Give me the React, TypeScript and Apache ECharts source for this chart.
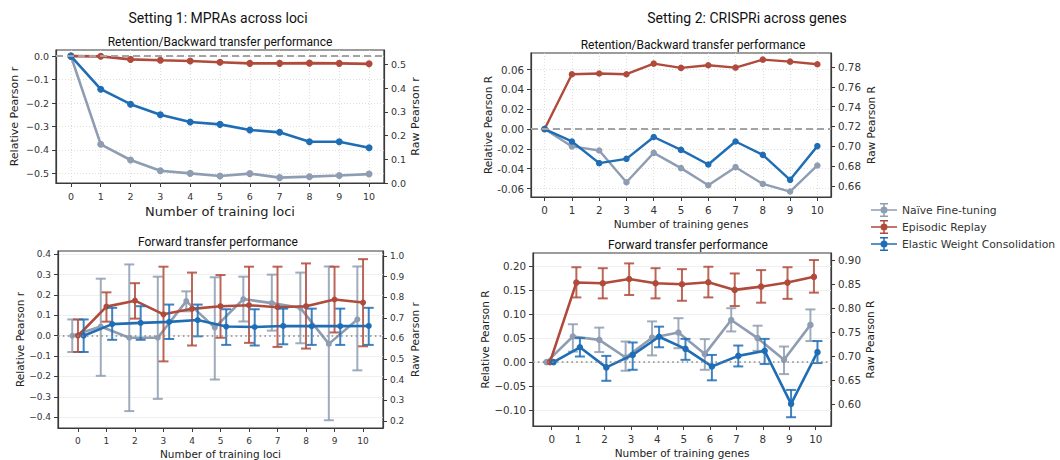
import React, { useEffect, useRef } from "react";
import * as echarts from "echarts";

// ---------- data ----------
const steps = [0, 1, 2, 3, 4, 5, 6, 7, 8, 9, 10];
const methods = ["Naïve Fine-tuning", "Episodic Replay", "Elastic Weight Consolidation"];

// Setting 1 – MPRAs, retention (relative Pearson r)
const mpraRetNaive = [0, -0.376, -0.443, -0.489, -0.5, -0.511, -0.501, -0.518, -0.514, -0.509, -0.503];
const mpraRetReplay = [0, -0.001, -0.014, -0.018, -0.021, -0.026, -0.031, -0.031, -0.03, -0.031, -0.033];
const mpraRetEwc = [0, -0.141, -0.205, -0.25, -0.281, -0.291, -0.315, -0.325, -0.365, -0.365, -0.391];

// Setting 1 – MPRAs, forward transfer (mean, low, high)
const mpraFwdNaive = [0, 0.045, -0.01, -0.01, 0.17, 0.04, 0.18, 0.16, 0.137, -0.04, 0.08];
const mpraFwdNaiveLo = [-0.08, -0.197, -0.37, -0.31, 0.12, -0.215, 0.07, 0.025, -0.037, -0.415, -0.17];
const mpraFwdNaiveHi = [0.08, 0.28, 0.35, 0.29, 0.218, 0.287, 0.29, 0.3, 0.31, 0.34, 0.34];
const mpraFwdReplay = [0, 0.143, 0.172, 0.105, 0.132, 0.145, 0.15, 0.14, 0.145, 0.178, 0.163];
const mpraFwdReplayLo = [-0.08, 0.069, 0.084, -0.126, -0.048, -0.01, -0.035, -0.055, -0.063, 0.016, -0.052];
const mpraFwdReplayHi = [0.08, 0.213, 0.258, 0.339, 0.31, 0.298, 0.339, 0.339, 0.355, 0.339, 0.376];
const mpraFwdEwc = [0, 0.057, 0.063, 0.068, 0.077, 0.045, 0.043, 0.048, 0.047, 0.047, 0.048];
const mpraFwdEwcLo = [-0.08, -0.02, -0.02, -0.016, -0.003, -0.045, -0.048, -0.042, -0.045, -0.045, -0.045];
const mpraFwdEwcHi = [0.08, 0.137, 0.145, 0.153, 0.153, 0.13, 0.13, 0.133, 0.133, 0.133, 0.137];

// Setting 2 – CRISPRi, retention (relative Pearson R)
const crRetNaive = [0, -0.0175, -0.0216, -0.0536, -0.024, -0.0394, -0.0566, -0.0384, -0.0553, -0.063, -0.0367];
const crRetReplay = [0, 0.0553, 0.056, 0.0553, 0.066, 0.0617, 0.0644, 0.062, 0.07, 0.068, 0.0654];
const crRetEwc = [0, -0.0125, -0.0344, -0.03, -0.008, -0.021, -0.0357, -0.0125, -0.026, -0.0512, -0.0172];

// Setting 2 – CRISPRi, forward transfer (mean, low, high)
const crFwdNaive = [0, 0.0534, 0.0465, 0.0096, 0.051, 0.0617, 0.0167, 0.088, 0.05, 0.0048, 0.0777];
const crFwdNaiveLo = [null, 0.022, 0.021, -0.018, 0.014, 0.029, -0.016, 0.064, 0.0235, -0.025, 0.044];
const crFwdNaiveHi = [null, 0.079, 0.072, 0.043, 0.085, 0.0917, 0.048, 0.1125, 0.076, 0.0325, 0.11];
const crFwdReplay = [0, 0.166, 0.1646, 0.1735, 0.1646, 0.1625, 0.1667, 0.1507, 0.1576, 0.166, 0.178];
const crFwdReplayLo = [null, 0.135, 0.133, 0.14, 0.133, 0.128, 0.135, 0.117, 0.124, 0.132, 0.145];
const crFwdReplayHi = [null, 0.198, 0.196, 0.206, 0.196, 0.194, 0.199, 0.185, 0.192, 0.198, 0.213];
const crFwdEwc = [0, 0.031, -0.011, 0.015, 0.053, 0.0277, -0.009, 0.013, 0.0235, -0.087, 0.0208];
const crFwdEwcLo = [null, 0.0117, -0.039, -0.016, 0.031, 0.0048, -0.038, -0.009, -0.004, -0.115, -0.002];
const crFwdEwcHi = [null, 0.05, 0.013, 0.041, 0.074, 0.0485, 0.015, 0.0346, 0.0485, -0.058, 0.044];

// tick values
const p1LeftTicks = [-0.5, -0.4, -0.3, -0.2, -0.1, 0.0];
const p1RightTicks = [0.0, 0.1, 0.2, 0.3, 0.4, 0.5];
const p2LeftTicks = [-0.4, -0.3, -0.2, -0.1, 0.0, 0.1, 0.2, 0.3, 0.4];
const p2RightTicks = [0.2, 0.3, 0.4, 0.5, 0.6, 0.7, 0.8, 0.9, 1.0];
const p3LeftTicks = [-0.06, -0.04, -0.02, 0.0, 0.02, 0.04, 0.06];
const p3RightTicks = [0.66, 0.68, 0.7, 0.72, 0.74, 0.76, 0.78];
const p4LeftTicks = [-0.1, -0.05, 0.0, 0.05, 0.1, 0.15, 0.2];
const p4RightTicks = [0.6, 0.65, 0.7, 0.75, 0.8, 0.85, 0.9];

// ---------- styling ----------
const COLORS = ["#8e9db2", "#b04b3c", "#1f6db5"];
const AX = "#3a3a3a";
const TICKFONT = "DejaVu Sans";
const TITLEFONT = "Roboto";

const fmt = (d: number, minus: string) => (v: number) =>
  (v < -1e-9 ? minus : "") + Math.abs(v).toFixed(d);

const legendIcon =
  "path://M0,6.25h26v1.5h-26z M12.25,0h1.5v14h-1.5z M9,0h8v1.5h-8z M9,12.5h8v1.5h-8z M16.5,7a3.5,3.5 0 1,1 -7,0a3.5,3.5 0 1,1 7,0z";

type Panel = {
  grid: { left: number; top: number; width: number; height: number };
  xMin: number;
  xMax: number;
  xName: string;
  xNameGap: number;
  xNameSize: number;
  yLeft: { min: number; max: number; ticks: number[]; fmt: (v: number) => string; name: string; gap: number; size: number };
  yRight: { min: number; max: number; ticks: number[]; fmt: (v: number) => string; name: string; gap: number; size: number };
  tickSize: number;
  dotted: boolean;
};

const panels: Panel[] = [
  {
    grid: { left: 56, top: 50, width: 328, height: 133 },
    xMin: -0.5, xMax: 10.5, xName: "Number of training loci", xNameGap: 22, xNameSize: 13,
    yLeft: { min: -0.541, max: 0.026, ticks: p1LeftTicks, fmt: fmt(1, "−"), name: "Relative Pearson r", gap: 36, size: 11 },
    yRight: { min: 0, max: 0.56, ticks: p1RightTicks, fmt: fmt(1, "−"), name: "Raw Pearson r", gap: 25, size: 11 },
    tickSize: 9.5, dotted: true,
  },
  {
    grid: { left: 58, top: 251, width: 325, height: 179 },
    xMin: -0.7, xMax: 10.7, xName: "Number of training loci", xNameGap: 20, xNameSize: 10.5,
    yLeft: { min: -0.453, max: 0.416, ticks: p2LeftTicks, fmt: fmt(1, "−"), name: "Relative Pearson r", gap: 33, size: 10.5 },
    yRight: { min: 0.165, max: 1.025, ticks: p2RightTicks, fmt: fmt(1, "−"), name: "Raw Pearson r", gap: 26, size: 10.5 },
    tickSize: 9, dotted: false,
  },
  {
    grid: { left: 531, top: 53, width: 300, height: 144 },
    xMin: -0.5, xMax: 10.5, xName: "Number of training genes", xNameGap: 21, xNameSize: 10.5,
    yLeft: { min: -0.0685, max: 0.0767, ticks: p3LeftTicks, fmt: fmt(2, "-"), name: "Relative Pearson R", gap: 38, size: 10.5 },
    yRight: { min: 0.649, max: 0.794, ticks: p3RightTicks, fmt: fmt(2, "-"), name: "Raw Pearson R", gap: 34, size: 10.5 },
    tickSize: 10.3, dotted: true,
  },
  {
    grid: { left: 533, top: 253, width: 298, height: 173 },
    xMin: -0.71, xMax: 10.58, xName: "Number of training genes", xNameGap: 21, xNameSize: 10.5,
    yLeft: { min: -0.1333, max: 0.2277, ticks: p4LeftTicks, fmt: fmt(2, "−"), name: "Relative Pearson R", gap: 41, size: 10.5 },
    yRight: { min: 0.554, max: 0.915, ticks: p4RightTicks, fmt: fmt(2, "−"), name: "Raw Pearson R", gap: 32, size: 10.5 },
    tickSize: 10.3, dotted: false,
  },
];

function lineSeries(name: string, color: string, g: number, xs: number[], ys: number[], size: number, width: number, z: number, extra: any = {}) {
  return {
    type: "line",
    name,
    xAxisIndex: g,
    yAxisIndex: g * 2,
    data: xs.map((x, i) => [x, ys[i]]),
    symbol: "circle",
    symbolSize: size,
    showSymbol: true,
    lineStyle: { color, width },
    itemStyle: { color },
    z,
    ...extra,
  };
}

function errSeries(name: string, color: string, g: number, xs: number[], lo: (number | null)[], hi: (number | null)[], z: number) {
  const data: number[][] = [];
  xs.forEach((x, i) => {
    if (lo[i] !== null && hi[i] !== null) data.push([x, lo[i] as number, hi[i] as number]);
  });
  return {
    type: "custom",
    name,
    xAxisIndex: g,
    yAxisIndex: g * 2,
    data,
    encode: { x: 0, y: [1, 2] },
    z,
    renderItem: (_p: any, api: any) => {
      const x = api.value(0);
      const a = api.coord([x, api.value(1)]);
      const b = api.coord([x, api.value(2)]);
      const hw = 5;
      const style = { stroke: color, lineWidth: 2, opacity: 0.85 };
      return {
        type: "group",
        children: [
          { type: "line", shape: { x1: a[0], y1: a[1], x2: b[0], y2: b[1] }, style },
          { type: "line", shape: { x1: a[0] - hw, y1: a[1], x2: a[0] + hw, y2: a[1] }, style },
          { type: "line", shape: { x1: b[0] - hw, y1: b[1], x2: b[0] + hw, y2: b[1] }, style },
        ],
      };
    },
  };
}

function zeroLine(dashed: boolean) {
  return {
    silent: true,
    symbol: "none",
    label: { show: false },
    data: [{ yAxis: 0 }],
    lineStyle: dashed
      ? { color: "#a3a3a3", width: 2, type: [7, 4] }
      : { color: "#8a8a8a", width: 1.6, type: [1.6, 3.2] },
  };
}

function buildOption() {
  const grids = panels.map((p) => ({
    ...p.grid,
    show: true,
    borderColor: AX,
    borderWidth: 1.2,
    backgroundColor: "transparent",
  }));

  const xAxes = panels.map((p, g) => ({
    type: "value",
    gridIndex: g,
    min: p.xMin,
    max: p.xMax,
    axisLine: { show: true, onZero: false, lineStyle: { color: AX, width: 1.2 } },
    axisTick: { show: true, customValues: steps, length: 4, lineStyle: { color: AX, width: 1 } },
    axisLabel: { customValues: steps, fontSize: p.tickSize, fontFamily: TICKFONT, color: "#333", margin: 8 },
    splitLine: { show: p.dotted, lineStyle: { color: "#d6d6d6", type: [1, 2], width: 0.8 } },
    name: p.xName,
    nameLocation: "middle",
    nameGap: p.xNameGap,
    nameTextStyle: { fontSize: p.xNameSize, fontFamily: TICKFONT, color: "#222" },
  }));

  const yAxes: any[] = [];
  panels.forEach((p, g) => {
    yAxes.push({
      type: "value",
      gridIndex: g,
      position: "left",
      min: p.yLeft.min,
      max: p.yLeft.max,
      axisLine: { show: true, onZero: false, lineStyle: { color: AX, width: 1.2 } },
      axisTick: { show: true, customValues: p.yLeft.ticks, length: 4, lineStyle: { color: AX } },
      axisLabel: { customValues: p.yLeft.ticks, formatter: p.yLeft.fmt, fontSize: p.tickSize, fontFamily: TICKFONT, color: "#333", margin: 7 },
      splitLine: p.dotted
        ? { show: true, lineStyle: { color: "#d6d6d6", type: [1, 2], width: 0.8 } }
        : { show: true, lineStyle: { color: "#efefef", type: "solid", width: 1 } },
      name: p.yLeft.name,
      nameLocation: "middle",
      nameRotate: 90,
      nameGap: p.yLeft.gap,
      nameTextStyle: { fontSize: p.yLeft.size, fontFamily: TICKFONT, color: "#222" },
    });
    yAxes.push({
      type: "value",
      gridIndex: g,
      position: "right",
      min: p.yRight.min,
      max: p.yRight.max,
      axisLine: { show: true, onZero: false, lineStyle: { color: AX, width: 1.2 } },
      axisTick: { show: true, customValues: p.yRight.ticks, length: 4, lineStyle: { color: AX } },
      axisLabel: { customValues: p.yRight.ticks, formatter: p.yRight.fmt, fontSize: p.tickSize, fontFamily: TICKFONT, color: "#333", margin: 7 },
      splitLine: { show: false },
      name: p.yRight.name,
      nameLocation: "middle",
      nameRotate: 90,
      nameGap: p.yRight.gap,
      nameTextStyle: { fontSize: p.yRight.size, fontFamily: TICKFONT, color: "#222" },
    });
  });

  const series: any[] = [];
  // Panel 1
  series.push(lineSeries(methods[0], COLORS[0], 0, steps, mpraRetNaive, 7, 2.6, 2, { markLine: zeroLine(true) }));
  series.push(lineSeries(methods[1], COLORS[1], 0, steps, mpraRetReplay, 7, 2.6, 3));
  series.push(lineSeries(methods[2], COLORS[2], 0, steps, mpraRetEwc, 7, 2.6, 4));

  // Panel 2 (dodged: -0.2, 0, +0.2)
  const x2n = steps.map((s) => s - 0.2);
  const x2r = steps.map((s) => s);
  const x2e = steps.map((s) => s + 0.2);
  series.push(errSeries(methods[0], COLORS[0], 1, x2n, mpraFwdNaiveLo, mpraFwdNaiveHi, 2));
  series.push(lineSeries(methods[0], COLORS[0], 1, x2n, mpraFwdNaive, 6, 2.6, 2, { markLine: zeroLine(false) }));
  series.push(errSeries(methods[1], COLORS[1], 1, x2r, mpraFwdReplayLo, mpraFwdReplayHi, 3));
  series.push(lineSeries(methods[1], COLORS[1], 1, x2r, mpraFwdReplay, 6, 2.6, 3));
  series.push(errSeries(methods[2], COLORS[2], 1, x2e, mpraFwdEwcLo, mpraFwdEwcHi, 4));
  series.push(lineSeries(methods[2], COLORS[2], 1, x2e, mpraFwdEwc, 6, 2.6, 4));

  // Panel 3
  series.push(lineSeries(methods[0], COLORS[0], 2, steps, crRetNaive, 6.5, 2.4, 2, { markLine: zeroLine(true) }));
  series.push(lineSeries(methods[1], COLORS[1], 2, steps, crRetReplay, 6.5, 2.4, 3));
  series.push(lineSeries(methods[2], COLORS[2], 2, steps, crRetEwc, 6.5, 2.4, 4));

  // Panel 4 (dodged: -0.2, -0.067, +0.067)
  const x4n = steps.map((s) => s - 0.2);
  const x4r = steps.map((s) => s - 0.067);
  const x4e = steps.map((s) => s + 0.067);
  series.push(errSeries(methods[0], COLORS[0], 3, x4n, crFwdNaiveLo, crFwdNaiveHi, 2));
  series.push(lineSeries(methods[0], COLORS[0], 3, x4n, crFwdNaive, 6.5, 2.6, 2, { markLine: zeroLine(false) }));
  series.push(errSeries(methods[1], COLORS[1], 3, x4r, crFwdReplayLo, crFwdReplayHi, 3));
  series.push(lineSeries(methods[1], COLORS[1], 3, x4r, crFwdReplay, 6.5, 2.6, 3));
  series.push(errSeries(methods[2], COLORS[2], 3, x4e, crFwdEwcLo, crFwdEwcHi, 4));
  series.push(lineSeries(methods[2], COLORS[2], 3, x4e, crFwdEwc, 6.5, 2.6, 4));

  const titleText = (text: string, x: number, y: number, size: number) => ({
    type: "text",
    x,
    y,
    silent: true,
    style: { text, fontSize: size, fontFamily: TITLEFONT, fill: "#111", align: "center", verticalAlign: "middle" },
  });

  return {
    animation: false,
    backgroundColor: "#ffffff",
    grid: grids,
    xAxis: xAxes,
    yAxis: yAxes,
    series,
    legend: {
      orient: "vertical",
      left: 866,
      top: 198,
      itemWidth: 26,
      itemHeight: 14,
      itemGap: 3,
      selectedMode: false,
      data: methods.map((m) => ({ name: m, icon: legendIcon })),
      textStyle: { fontFamily: TICKFONT, fontSize: 10.8, color: "#333" },
    },
    graphic: [
      titleText("Setting 1: MPRAs across loci", 218, 18, 14),
      titleText("Setting 2: CRISPRi across genes", 747, 18, 14),
      titleText("Retention/Backward transfer performance", 220, 42, 12),
      titleText("Retention/Backward transfer performance", 693, 45, 12),
      titleText("Forward transfer performance", 218, 242, 12),
      titleText("Forward transfer performance", 688, 245, 12),
    ],
  };
}

export default function App() {
  const ref = useRef<HTMLDivElement>(null);
  useEffect(() => {
    if (!ref.current) return;
    const chart = echarts.init(ref.current, undefined, { renderer: "svg" });
    chart.setOption(buildOption() as any);
    return () => chart.dispose();
  }, []);
  return (
    <div
      ref={ref}
      style={{ position: "fixed", left: 0, top: 0, width: 1060, height: 460, background: "#fff" }}
    />
  );
}
